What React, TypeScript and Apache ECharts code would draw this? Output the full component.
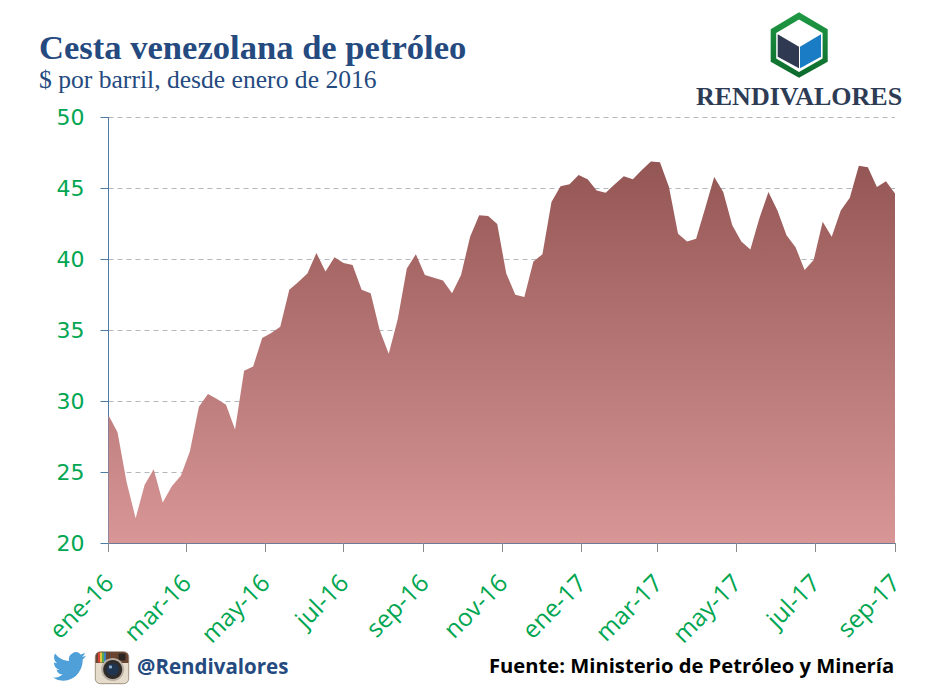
import React, { useEffect, useRef } from "react";
import * as echarts from "echarts";

const titleText = "Cesta venezolana de petróleo";
const subtitleText = "$ por barril, desde enero de 2016";
const brandText = "RENDIVALORES";
const handleText = "@Rendivalores";
const sourceText = "Fuente: Ministerio de Petróleo y Minería";

// Days since 1 Jan 2016 of each x-axis tick, and its label
const tickDays = [0, 60, 121, 182, 244, 305, 366, 425, 486, 547, 609];
const tickLabels = ["ene-16", "mar-16", "may-16", "jul-16", "sep-16", "nov-16", "ene-17", "mar-17", "may-17", "jul-17", "sep-17"];
const yTicks = [20, 25, 30, 35, 40, 45, 50];

// Weekly values, one every 7 days from 1 Jan 2016
const weeklyPrice = [
  29.0, 27.8, 24.3, 21.75, 24.1, 25.2, 22.85, 24.0, 24.75, 26.45, 29.6, 30.5,
  30.15, 29.75, 28.0, 32.15, 32.45, 34.45, 34.8, 35.25, 37.85, 38.4, 39.0, 40.45,
  39.15, 40.15, 39.75, 39.6, 37.85, 37.6, 35.0, 33.35, 35.8, 39.35, 40.35, 38.9,
  38.7, 38.5, 37.6, 38.9, 41.6, 43.1, 43.05, 42.5, 39.0, 37.5, 37.35, 39.85,
  40.35, 44.05, 45.15, 45.3, 45.95, 45.65, 44.85, 44.7, 45.3, 45.85, 45.65, 46.3,
  46.9, 46.85, 45.1, 41.8, 41.25, 41.45, 43.6, 45.8, 44.75, 42.4, 41.25, 40.7,
  42.9, 44.75, 43.45, 41.7, 40.85, 39.25, 39.95, 42.65, 41.6, 43.45, 44.35, 46.6,
  46.5, 45.1, 45.5, 44.65,
];

const GREEN = "#00a651";
const birdPath =
  "M23.953 4.57 a10 10 0 0 1 -2.825 .775 a4.958 4.958 0 0 0 2.163 -2.723 c-.951 .555 -2.005 .959 -3.127 1.184 a4.92 4.92 0 0 0 -8.384 4.482 C7.69 8.095 4.067 6.13 1.64 3.162 a4.822 4.822 0 0 0 -.666 2.475 c0 1.71 .87 3.213 2.188 4.096 a4.904 4.904 0 0 1 -2.228 -.616 v.06 a4.923 4.923 0 0 0 3.946 4.827 a4.996 4.996 0 0 1 -2.212 .085 a4.936 4.936 0 0 0 4.604 3.417 a9.867 9.867 0 0 1 -6.102 2.105 c-.39 0 -.779 -.023 -1.17 -.067 a13.995 13.995 0 0 0 7.557 2.209 c9.053 0 13.998 -7.496 13.998 -13.985 c0 -.21 0 -.42 -.015 -.63 A9.935 9.935 0 0 0 24 4.59 z";

echarts.graphic.registerShape("bird", echarts.graphic.extendPath(birdPath as any, {}) as any);

const poly = (points: number[][], fill: any) => ({ type: "polygon", shape: { points }, style: { fill }, silent: true });

const logo = [
  poly(
    [[799, 12.3], [827.7, 29.3], [827.7, 61.7], [799, 77.7], [770.7, 61.7], [770.7, 29.3]],
    new echarts.graphic.LinearGradient(0, 0, 0, 1, [
      { offset: 0, color: "#1f9a45" },
      { offset: 1, color: "#0c6a2c" },
    ])
  ),
  poly([[799, 19.5], [822.6, 33], [822.6, 58.6], [799, 72], [776.2, 58.6], [776.2, 33]], "#ffffff"),
  poly([[777.7, 34.3], [799, 46.7], [799, 68.3], [777.7, 56.7]], "#2f3a52"),
  poly([[800, 46.7], [821, 34.3], [821, 56.7], [800, 68.3]], "#1a7cc4"),
];

const instagram = [
  { type: "rect", shape: { x: 95.3, y: 651.7, width: 33.4, height: 32, r: 5 }, style: { fill: "#e6dccb", stroke: "#6b5a48", lineWidth: 0.6 }, silent: true },
  { type: "rect", shape: { x: 95.6, y: 651.9, width: 32.8, height: 11, r: [5, 5, 0, 0] }, style: { fill: "#6a4632" }, silent: true },
  { type: "rect", shape: { x: 98, y: 652.5, width: 2, height: 10 }, style: { fill: "#d8413a" }, silent: true },
  { type: "rect", shape: { x: 100, y: 652.5, width: 2, height: 10 }, style: { fill: "#e8c33c" }, silent: true },
  { type: "rect", shape: { x: 102, y: 652.5, width: 2, height: 10 }, style: { fill: "#5aa84f" }, silent: true },
  { type: "rect", shape: { x: 104, y: 652.5, width: 2, height: 10 }, style: { fill: "#3b82c4" }, silent: true },
  { type: "rect", shape: { x: 118.5, y: 653.5, width: 7, height: 7, r: 1 }, style: { fill: "#2c2623" }, silent: true },
  { type: "circle", shape: { cx: 112.7, cy: 669.5, r: 11.5 }, style: { fill: "#b9b0a3" }, silent: true },
  { type: "circle", shape: { cx: 112.7, cy: 669.5, r: 9.5 }, style: { fill: "#2f2c2a" }, silent: true },
  { type: "circle", shape: { cx: 112.7, cy: 669.5, r: 6.2 }, style: { fill: "#1f3550" }, silent: true },
  { type: "circle", shape: { cx: 110.5, cy: 667, r: 1.6 }, style: { fill: "#8fb2d0" }, silent: true },
];

const texts = [
  { type: "text", x: 696, y: 83, style: { text: brandText, font: "bold 26px 'Liberation Serif'", fill: "#2d3b55" }, silent: true },
  { type: "text", x: 137, y: 655, style: { text: handleText, font: "bold 20.5px 'Open Sans'", fill: "#254a80" }, silent: true },
  { type: "text", x: 489, y: 655, style: { text: sourceText, font: "bold 20.2px 'Open Sans'", fill: "#000000" }, silent: true },
];

const bird = { type: "bird", x: 52.7, y: 649, scaleX: 1.39, scaleY: 1.46, style: { fill: "#4f9fd8" }, silent: true };

export default function App() {
  const ref = useRef<HTMLDivElement>(null);
  useEffect(() => {
    document.body.style.margin = "0";
    const chart = echarts.init(ref.current!, undefined, { renderer: "svg" });
    chart.setOption({
      animation: false,
      backgroundColor: "#ffffff",
      title: {
        text: titleText,
        subtext: subtitleText,
        left: 39,
        top: 29,
        padding: 0,
        itemGap: 2,
        textStyle: { fontFamily: "Liberation Serif", fontWeight: "bold", fontSize: 34.6, color: "#254a80" },
        subtextStyle: { fontFamily: "Liberation Serif", fontWeight: "normal", fontSize: 25.6, color: "#254a80" },
      },
      grid: { left: 108.5, right: 46, top: 117.5, bottom: 147, containLabel: false },
      xAxis: {
        type: "value",
        min: 0,
        max: 609,
        splitLine: { show: false },
        axisLine: { show: true, onZero: false, lineStyle: { color: "#6d7b94", width: 1 } },
        axisTick: { show: true, length: 9, customValues: tickDays, lineStyle: { color: "#8a8a8a" } },
        axisLabel: {
          customValues: tickDays,
          rotate: 45,
          margin: 35,
          fontFamily: "Open Sans",
          fontSize: 24.5,
          color: GREEN,
          hideOverlap: false,
          showMinLabel: true,
          showMaxLabel: true,
          formatter: (v: number) => tickLabels[tickDays.indexOf(v)] ?? "",
        },
      },
      yAxis: {
        type: "value",
        min: yTicks[0],
        max: yTicks[yTicks.length - 1],
        interval: 5,
        axisLine: { show: true, lineStyle: { color: "#4f7aa5", width: 1 } },
        axisTick: { show: true, length: 8, lineStyle: { color: "#4f7aa5" } },
        axisLabel: { margin: 24, fontFamily: "DejaVu Sans", fontSize: 22, color: GREEN },
        splitLine: { show: true, lineStyle: { color: "#b4b7bb", type: [5, 4], width: 1 } },
      },
      series: [
        {
          type: "line",
          name: "Cesta venezolana",
          showSymbol: false,
          symbol: "none",
          smooth: false,
          lineStyle: { width: 0 },
          data: weeklyPrice.map((v, i) => [i * 7, v]),
          areaStyle: {
            opacity: 1,
            color: new echarts.graphic.LinearGradient(0, 0, 0, 1, [
              { offset: 0, color: "#945654" },
              { offset: 1, color: "#d89696" },
            ]),
          },
        },
      ],
      graphic: [...logo, ...instagram, bird, ...texts],
    });
    return () => chart.dispose();
  }, []);
  return <div ref={ref} style={{ width: 941, height: 690 }} />;
}
